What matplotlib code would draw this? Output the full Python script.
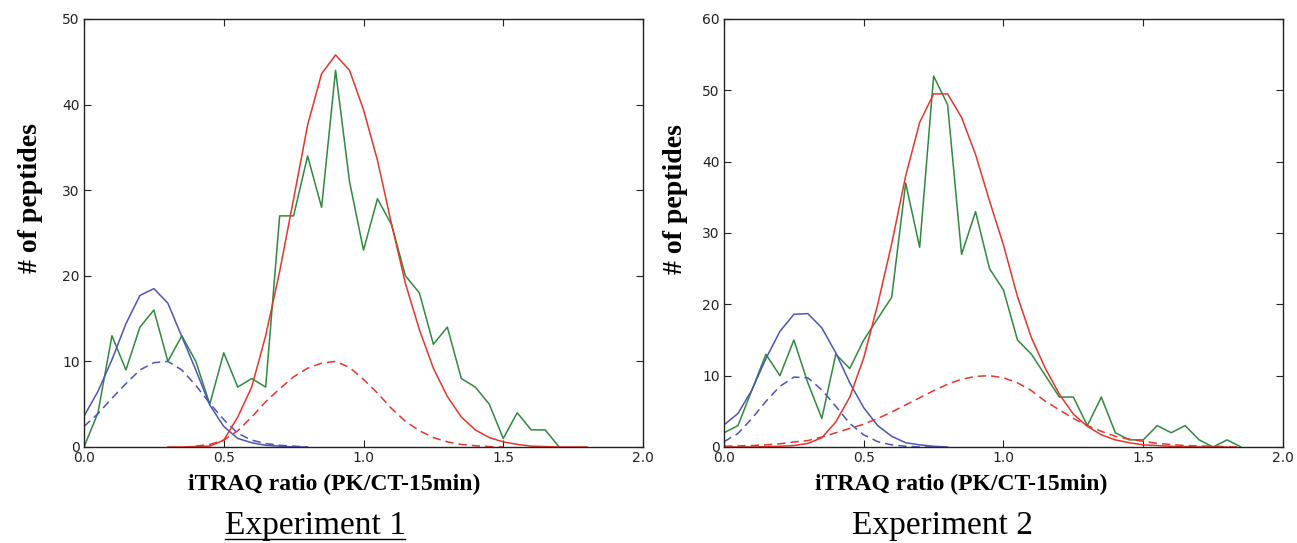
import matplotlib
matplotlib.use("Agg")
import matplotlib.pyplot as plt
from matplotlib.lines import Line2D

# ---------------- data ----------------
ratio_bins = [0.00, 0.05, 0.10, 0.15, 0.20, 0.25, 0.30, 0.35, 0.40, 0.45,
              0.50, 0.55, 0.60, 0.65, 0.70, 0.75, 0.80, 0.85, 0.90, 0.95,
              1.00, 1.05, 1.10, 1.15, 1.20, 1.25, 1.30, 1.35, 1.40, 1.45,
              1.50, 1.55, 1.60, 1.65, 1.70, 1.75, 1.80, 1.85, 1.90, 1.95, 2.00]

# Experiment 1
exp1_counts = [0, 4, 13, 9, 14, 16, 10, 13, 10, 5, 11, 7, 8, 7, 27, 27, 34, 28,
               44, 31, 23, 29, 26, 20, 18, 12, 14, 8, 7, 5, 1, 4, 2, 2, 0]          # 0.00 .. 1.70
exp1_blue_fit = [3.6, 6.5, 10.2, 14.4, 17.7, 18.5, 16.8, 12.9, 9.0, 4.9, 2.4, 1.0,
                 0.5, 0.2, 0.1, 0.0, 0.0]                                            # 0.00 .. 0.80
exp1_blue_norm = [2.4, 3.9, 5.7, 7.4, 9.0, 9.85, 10.0, 9.0, 7.2, 5.1, 3.2, 1.6,
                  0.8, 0.4, 0.2, 0.1, 0.0]                                           # 0.00 .. 0.80
exp1_red_fit = [0.0, 0.0, 0.05, 0.1, 0.8, 3.5, 7.0, 13.0, 20.5, 29.0, 37.6, 43.6,
                45.8, 44.0, 39.4, 33.5, 26.1, 19.1, 13.7, 9.2, 5.9, 3.5, 2.0, 1.1,
                0.6, 0.3, 0.1, 0.05, 0.0, 0.0, 0.0]                                  # 0.30 .. 1.80
exp1_red_norm = [0.1, 0.3, 0.8, 1.9, 3.5, 5.3, 6.8, 8.2, 9.2, 9.8, 10.0, 9.3, 7.9,
                 6.3, 4.5, 3.0, 1.9, 1.1, 0.6, 0.3, 0.15, 0.05, 0.0]                 # 0.40 .. 1.50

# Experiment 2
exp2_counts = [2, 3, 8, 13, 10, 15, 9, 4, 13, 11, 15, 18, 21, 37, 28, 52, 48, 27,
               33, 25, 22, 15, 13, 10, 7, 7, 3, 7, 2, 1, 1, 3, 2, 3, 1, 0, 1, 0]    # 0.00 .. 1.85
exp2_blue_fit = [3.1, 4.7, 8.0, 12.4, 16.2, 18.6, 18.7, 16.7, 13.2, 9.0, 5.5, 3.0,
                 1.5, 0.6, 0.3, 0.1, 0.0]                                            # 0.00 .. 0.80
exp2_blue_norm = [0.75, 1.9, 4.0, 6.4, 8.5, 9.8, 9.7, 8.0, 5.7, 3.3, 1.7, 0.75,
                  0.3, 0.1, 0.0, 0.0]                                                # 0.00 .. 0.75
exp2_red_fit = [0.0, 0.0, 0.0, 0.05, 0.1, 0.2, 0.5, 1.3, 3.5, 7.0, 12.5, 20.0,
                28.5, 38.0, 45.5, 49.5, 49.5, 46.2, 41.0, 34.5, 28.3, 21.1, 15.3,
                11.0, 7.4, 4.6, 2.9, 1.7, 1.0, 0.6, 0.3, 0.2, 0.1, 0.05, 0.0, 0.0, 0.0]  # 0.00 .. 1.80
exp2_red_norm = [0.1, 0.15, 0.2, 0.3, 0.45, 0.7, 0.9, 1.4, 2.0, 2.6, 3.2, 4.0, 4.9,
                 5.9, 6.9, 7.9, 8.8, 9.5, 9.9, 10.0, 9.7, 9.0, 7.9, 6.4, 5.2, 4.0,
                 3.0, 2.2, 1.5, 1.1, 0.8, 0.5, 0.35, 0.2, 0.15, 0.1, 0.05, 0.0]      # 0.00 .. 1.85

x_ticks = [0.0, 0.5, 1.0, 1.5, 2.0]
exp1_yticks = [0, 10, 20, 30, 40, 50]
exp2_yticks = [0, 10, 20, 30, 40, 50, 60]
x_label = "iTRAQ ratio (PK/CT-15min)"
y_label = "# of peptides"
titles = ["Experiment 1", "Experiment 2"]

# ---------------- style ----------------
plt.rcParams['lines.scale_dashes'] = False
GREEN = '#2f8a3f'
BLUE = '#4c55b8'
RED = '#e8352c'
SERIF = ['Liberation Serif', 'DejaVu Serif']
LW = 1.1
DASH = (6, 3.6)

W, H = 1297, 543
fig = plt.figure(figsize=(W / 100, H / 100), dpi=100)
fig.patch.set_facecolor('white')


def rect(x0, x1, ytop, ybot):
    return [x0 / W, 1 - ybot / H, (x1 - x0) / W, (ybot - ytop) / H]


axL = fig.add_axes(rect(84, 643, 19, 447))
axR = fig.add_axes(rect(724, 1283, 19, 447))


def sub(values, start):
    i = ratio_bins.index(start)
    return ratio_bins[i:i + len(values)]


def draw(ax, counts, bfit, bnorm, rfit, rstart, rnorm, rnstart, ymax, yticks):
    ax.plot(sub(counts, 0.0), counts, color=GREEN, lw=LW)
    ax.plot(sub(bfit, 0.0), bfit, color=BLUE, lw=LW)
    ax.plot(sub(bnorm, 0.0), bnorm, color=BLUE, lw=LW, ls='--', dashes=DASH)
    ax.plot(sub(rfit, rstart), rfit, color=RED, lw=LW)
    ax.plot(sub(rnorm, rnstart), rnorm, color=RED, lw=LW, ls='--', dashes=DASH)
    ax.set_xlim(0, 2.0)
    ax.set_ylim(0, ymax)
    ax.set_xticks(x_ticks)
    ax.set_xticklabels([f"{v:.1f}" for v in x_ticks])
    ax.set_yticks(yticks)
    ax.tick_params(direction='in', top=True, right=True, length=5, width=0.8,
                   labelsize=10, pad=3, colors='#222222')
    for s in ax.spines.values():
        s.set_linewidth(1.0)
        s.set_color('#222222')


draw(axL, exp1_counts, exp1_blue_fit, exp1_blue_norm, exp1_red_fit, 0.30,
     exp1_red_norm, 0.40, 50, exp1_yticks)
draw(axR, exp2_counts, exp2_blue_fit, exp2_blue_norm, exp2_red_fit, 0.00,
     exp2_red_norm, 0.00, 60, exp2_yticks)

# axis labels (placed as in the reference)
for (xc, yc) in [(31, 198), (675, 199)]:
    fig.text(xc / W, 1 - yc / H, y_label, rotation=90, ha='center', va='center',
             family=SERIF, fontweight='bold', fontsize=20)
for xc in [334, 961]:
    fig.text(xc / W, 1 - 490 / H, x_label, ha='center', va='baseline',
             family=SERIF, fontweight='bold', fontsize=17)

t1 = fig.text(315 / W, 1 - 534 / H, titles[0], ha='center', va='baseline',
              family=SERIF, fontsize=24)
t2 = fig.text(942 / W, 1 - 534 / H, titles[1], ha='center', va='baseline',
              family=SERIF, fontsize=24)

# underline for "Experiment 1"
fig.canvas.draw()
bb = t1.get_window_extent()
uy = (H - 539) / H
fig.add_artist(Line2D([bb.x0 / W, bb.x1 / W], [uy, uy], transform=fig.transFigure,
                      color='black', lw=1.0))

fig.savefig("out.png", dpi=100)
